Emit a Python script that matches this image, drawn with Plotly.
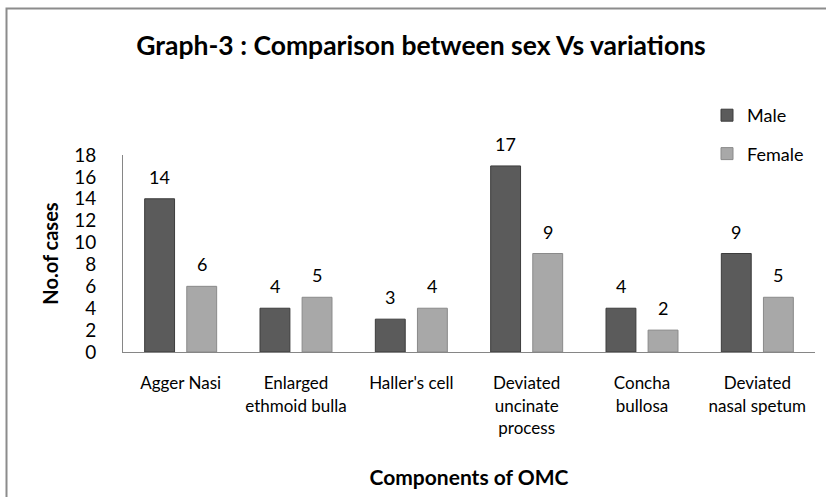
import plotly.graph_objects as go

categories = ["Agger Nasi", "Enlarged<br>ethmoid bulla", "Haller's cell",
              "Deviated<br>uncinate<br>process", "Concha<br>bullosa", "Deviated<br>nasal spetum"]
male = [14, 4, 3, 17, 4, 9]
female = [6, 5, 4, 9, 2, 5]
y_ticks = [0, 2, 4, 6, 8, 10, 12, 14, 16, 18]

FONT = "Lato"
W, H = 826, 497
L, R, T, B = 123, 11, 155, 145

fig = go.Figure()
fig.add_trace(go.Bar(x=categories, y=male, name="Male", legendgroup="m",
                     marker=dict(color="#5b5b5b", line=dict(color="#3c3c3c", width=1))))
fig.add_trace(go.Bar(x=categories, y=female, name="Female", legendgroup="f",
                     marker=dict(color="#a8a8a8", line=dict(color="#8a8a8a", width=1))))

annotations = []
for vals, shift in ((male, -21), (female, 21)):
    for c, v in zip(categories, vals):
        annotations.append(dict(x=c, y=v, xref="x", yref="y", text=str(v), showarrow=False,
                                xshift=shift, yshift=9, yanchor="bottom",
                                font=dict(family=FONT, size=18, color="#000")))

pw = W - L - R
ph = H - T - B
fig.update_layout(
    width=W, height=H,
    margin=dict(l=L, r=R, t=T, b=B),
    paper_bgcolor="white", plot_bgcolor="white",
    barmode="group", bargap=0.27, bargroupgap=0.29,
    title=dict(text="<b>Graph-3 : Comparison between sex Vs variations</b>",
               x=421 / W, xref="container", xanchor="center",
               y=1 - 46 / H, yref="container", yanchor="middle",
               font=dict(family=FONT, size=26.5, color="#000")),
    legend=dict(x=(707 - L) / pw, xanchor="left", y=(352 - 97) / ph, yanchor="top",
                font=dict(family=FONT, size=18, color="#000"), tracegroupgap=12,
                bgcolor="rgba(0,0,0,0)"),
    xaxis=dict(showline=True, linecolor="#868686", linewidth=1, showgrid=False,
               ticks="", ticklabelstandoff=16,
               tickfont=dict(family=FONT, size=17, color="#000"),
               title=dict(text="<b>Components of OMC</b>", standoff=33,
                          font=dict(family=FONT, size=21, color="#000"))),
    yaxis=dict(range=[0, 18], tickvals=y_ticks, showline=True, linecolor="#868686",
               linewidth=1, showgrid=False, zeroline=False, ticks="",
               ticklabelstandoff=22,
               tickfont=dict(family=FONT, size=19, color="#000"),
               title=dict(text="<b>No.of cases</b>", standoff=10,
                          font=dict(family=FONT, size=20, color="#000"))),
    annotations=annotations,
    shapes=[dict(type="rect", xref="paper", yref="paper",
                 x0=(6.5 - L) / pw, x1=(W + 10 - L) / pw,
                 y0=(352 - (H + 10)) / ph, y1=(352 - 8.5) / ph,
                 line=dict(color="#8c8c8c", width=2), fillcolor="rgba(0,0,0,0)", layer="below")],
)

fig.write_html("out.html", config={"displayModeBar": False},
               post_script="document.body.style.margin='0px';")
